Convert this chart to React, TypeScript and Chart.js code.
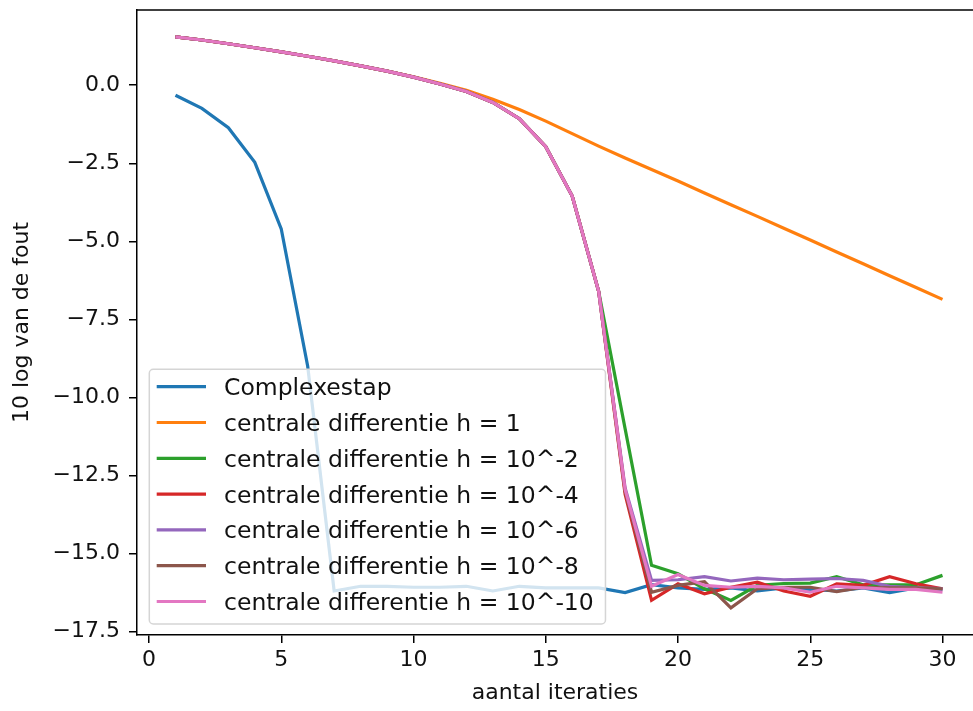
import React, { useEffect, useRef } from 'react';
import { Chart, registerables } from 'chart.js';

Chart.register(...registerables);

const iterations = [1, 2, 3, 4, 5, 6, 7, 8, 9, 10, 11, 12, 13, 14, 15, 16, 17, 18, 19, 20, 21, 22, 23, 24, 25, 26, 27, 28, 29, 30];
const xTickValues = [0, 5, 10, 15, 20, 25, 30];
const yTickValues = [-17.5, -15, -12.5, -10, -7.5, -5, -2.5, 0];

const seriesLabels = [
  'Complexestap',
  'centrale differentie h = 1',
  'centrale differentie h = 10^-2',
  'centrale differentie h = 10^-4',
  'centrale differentie h = 10^-6',
  'centrale differentie h = 10^-8',
  'centrale differentie h = 10^-10',
];
const seriesColors = ['#1f77b4', '#ff7f0e', '#2ca02c', '#d62728', '#9467bd', '#8c564b', '#e377c2'];

const complexestap = [-0.32, -0.74, -1.36, -2.47, -4.6, -9.0, -16.2, -16.05, -16.05, -16.08, -16.08, -16.05, -16.2, -16.05, -16.1, -16.1, -16.1, -16.25, -16.0, -16.1, -16.15, -16.1, -16.2, -16.1, -16.15, -16.2, -16.1, -16.25, -16.1, -16.15];
const centraalH1 = [1.55, 1.45, 1.33, 1.2, 1.07, 0.93, 0.78, 0.62, 0.45, 0.27, 0.06, -0.16, -0.45, -0.78, -1.15, -1.55, -1.95, -2.33, -2.7, -3.07, -3.45, -3.83, -4.2, -4.58, -4.96, -5.34, -5.72, -6.1, -6.48, -6.86];
const centraalH2 = [1.55, 1.45, 1.33, 1.2, 1.07, 0.93, 0.78, 0.62, 0.45, 0.26, 0.04, -0.2, -0.55, -1.07, -1.97, -3.55, -6.6, -11.0, -15.38, -15.65, -16.13, -16.5, -16.02, -15.96, -15.95, -15.74, -16.0, -16.0, -16.0, -15.7];
const centraalH4 = [1.55, 1.45, 1.33, 1.2, 1.07, 0.93, 0.78, 0.62, 0.45, 0.26, 0.04, -0.2, -0.55, -1.07, -1.97, -3.55, -6.6, -13.1, -16.5, -15.97, -16.29, -16.08, -15.92, -16.2, -16.37, -15.97, -16.02, -15.74, -15.97, -16.13];
const centraalH6 = [1.55, 1.45, 1.33, 1.2, 1.07, 0.93, 0.78, 0.62, 0.45, 0.26, 0.04, -0.2, -0.55, -1.07, -1.97, -3.55, -6.6, -12.9, -15.86, -15.84, -15.74, -15.88, -15.79, -15.84, -15.82, -15.8, -15.86, -16.05, -16.1, -16.12];
const centraalH8 = [1.55, 1.45, 1.33, 1.2, 1.07, 0.93, 0.78, 0.62, 0.45, 0.26, 0.04, -0.2, -0.55, -1.07, -1.97, -3.55, -6.6, -13.0, -16.24, -16.02, -15.9, -16.74, -16.13, -16.08, -16.08, -16.22, -16.08, -16.1, -16.1, -16.13];
const centraalH10 = [1.55, 1.45, 1.33, 1.2, 1.07, 0.93, 0.78, 0.62, 0.45, 0.26, 0.04, -0.2, -0.55, -1.07, -1.97, -3.55, -6.6, -12.95, -16.05, -15.67, -16.02, -16.08, -16.05, -16.1, -16.24, -16.05, -16.1, -16.15, -16.15, -16.24];

const seriesValues = [complexestap, centraalH1, centraalH2, centraalH4, centraalH6, centraalH8, centraalH10];

const FONT = '"DejaVu Sans", sans-serif';
const FS = 22;

const mplPlugin = {
  id: 'mplFrameLegend',
  afterDatasetsDraw(chart: any) {
    const { ctx, chartArea } = chart;
    ctx.save();
    // top spine
    ctx.strokeStyle = '#000';
    ctx.lineWidth = 1.5;
    ctx.beginPath();
    ctx.moveTo(chartArea.left, chartArea.top);
    ctx.lineTo(chartArea.right, chartArea.top);
    ctx.stroke();

    // legend
    const fs = 23.5;
    ctx.font = `${fs}px ${FONT}`;
    const ds = chart.data.datasets;
    const rowH = 35.8;
    let maxW = 0;
    ds.forEach((d: any) => { maxW = Math.max(maxW, ctx.measureText(d.label).width); });
    const left = chartArea.left + 12.3;
    const bottom = chartArea.bottom - 11;
    const height = 254.7;
    const top = bottom - height;
    const textX = left + 74.7;
    const width = 74.7 + maxW + 11.7;
    const r = 4;
    ctx.beginPath();
    ctx.moveTo(left + r, top);
    ctx.lineTo(left + width - r, top);
    ctx.arcTo(left + width, top, left + width, top + r, r);
    ctx.lineTo(left + width, bottom - r);
    ctx.arcTo(left + width, bottom, left + width - r, bottom, r);
    ctx.lineTo(left + r, bottom);
    ctx.arcTo(left, bottom, left, bottom - r, r);
    ctx.lineTo(left, top + r);
    ctx.arcTo(left, top, left + r, top, r);
    ctx.closePath();
    ctx.fillStyle = 'rgba(255,255,255,0.8)';
    ctx.fill();
    ctx.strokeStyle = '#d5d5d5';
    ctx.lineWidth = 1.5;
    ctx.stroke();

    ds.forEach((d: any, i: number) => {
      const y = top + 17.4 + i * rowH;
      ctx.strokeStyle = d.borderColor;
      ctx.lineWidth = 3.2;
      ctx.beginPath();
      ctx.moveTo(left + 7.4, y);
      ctx.lineTo(left + 56.7, y);
      ctx.stroke();
      ctx.fillStyle = '#111';
      ctx.textAlign = 'left';
      ctx.textBaseline = 'alphabetic';
      ctx.fillText(d.label, textX, y + 0.3645 * fs);
    });
    ctx.restore();
  },
};

export default function App() {
  const ref = useRef<HTMLCanvasElement>(null);
  useEffect(() => {
    document.body.style.margin = '0';
    const canvas = ref.current!;
    const datasets = seriesValues.map((vals, i) => ({
      label: seriesLabels[i],
      data: iterations.map((x, j) => ({ x, y: vals[j] })),
      borderColor: seriesColors[i],
      backgroundColor: seriesColors[i],
      borderWidth: 3.2,
      pointRadius: 0,
      tension: 0,
      fill: false,
      order: seriesValues.length - 1 - i,
    }));
    const tickFont = { family: FONT, size: FS };
    const chart = new Chart(canvas, {
      type: 'line',
      data: { datasets },
      options: {
        animation: false,
        responsive: false,
        devicePixelRatio: 1,
        layout: { padding: { top: 10, left: 0, right: 0, bottom: 0 } },
        plugins: { legend: { display: false }, tooltip: { enabled: false } },
        scales: {
          x: {
            type: 'linear',
            min: -0.4537,
            max: 31.153,
            afterBuildTicks: (s: any) => { s.ticks = xTickValues.map((v) => ({ value: v })); },
            afterFit: (s: any) => { s.height = 76; s.paddingLeft = 0; s.paddingRight = 0; },
            ticks: { font: tickFont, color: '#111', padding: 4, callback: (v: any) => String(v), maxRotation: 0, autoSkip: false },
            grid: { drawOnChartArea: false, drawTicks: true, tickLength: 8, color: '#000', lineWidth: 1.5 },
            border: { display: true, color: '#000', width: 1.5 },
            title: { display: true, text: 'aantal iteraties', font: tickFont, color: '#111', padding: { top: 0, bottom: 5 } },
          },
          y: {
            type: 'linear',
            min: -17.61,
            max: 2.41,
            afterBuildTicks: (s: any) => { s.ticks = yTickValues.map((v) => ({ value: v })); },
            afterFit: (s: any) => { s.width = 137; s.paddingTop = 0; s.paddingBottom = 0; },
            ticks: {
              font: tickFont, color: '#111', padding: 9, autoSkip: false,
              callback: (v: any) => (v < 0 ? '\u2212' : '') + Math.abs(Number(v)).toFixed(1),
            },
            grid: { drawOnChartArea: false, drawTicks: true, tickLength: 8, color: '#000', lineWidth: 1.5 },
            border: { display: true, color: '#000', width: 1.5 },
            title: { display: true, text: '10 log van de fout', font: tickFont, color: '#111', padding: { top: 9, bottom: 0 } },
          },
        },
      },
      plugins: [mplPlugin],
    } as any);
    return () => chart.destroy();
  }, []);
  return (
    <div style={{ width: 973, height: 711, overflow: 'hidden' }}>
      <canvas ref={ref} width={973} height={711} style={{ display: 'block', width: 973, height: 711 }} />
    </div>
  );
}
